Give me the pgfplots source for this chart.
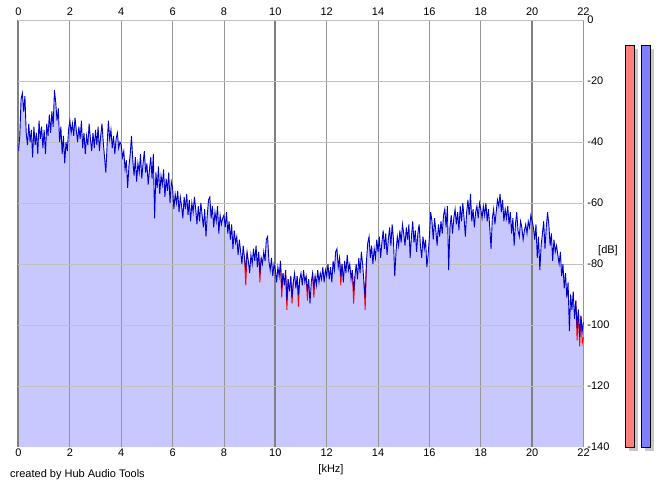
\documentclass[border=0pt]{standalone}
\usepackage{pgfplots}
\pgfplotsset{compat=1.18}
\usepackage{pgfplotstable}
\usepackage{fontspec}
\setmainfont{Liberation Sans}
\definecolor{fillc}{RGB}{200,200,255}
\definecolor{linec}{RGB}{0,0,205}
\definecolor{vgrid}{RGB}{150,150,150}
\definecolor{tgrid}{RGB}{128,128,128}
\definecolor{hgrid}{RGB}{192,192,192}
\pgfplotstableread{
x y
0.00 -43
0.05 -38
0.10 -26
0.15 -24
0.20 -30
0.25 -25
0.30 -37
0.35 -41
0.40 -34
0.45 -40
0.50 -36
0.55 -45
0.60 -35
0.65 -41
0.70 -37
0.75 -44
0.80 -33
0.85 -39
0.90 -35
0.95 -42
1.00 -36
1.05 -44
1.10 -34
1.15 -38
1.20 -31
1.25 -37
1.30 -30
1.35 -35
1.40 -23
1.45 -27
1.50 -33
1.55 -29
1.60 -40
1.65 -35
1.70 -44
1.75 -38
1.80 -47
1.85 -40
1.90 -43
1.95 -36
2.00 -33
2.05 -37
2.10 -34
2.15 -38
2.20 -32
2.25 -36
2.30 -40
2.35 -35
2.40 -39
2.45 -33
2.50 -42
2.55 -37
2.60 -44
2.65 -38
2.70 -41
2.75 -34
2.80 -39
2.85 -43
2.90 -37
2.95 -42
3.00 -36
3.05 -41
3.10 -35
3.15 -43
3.20 -38
3.25 -34
3.30 -40
3.35 -45
3.40 -50
3.45 -41
3.50 -33
3.55 -39
3.60 -36
3.65 -42
3.70 -38
3.75 -44
3.80 -39
3.85 -37
3.90 -42
3.95 -40
4.00 -41
4.05 -45
4.10 -43
4.15 -49
4.20 -46
4.25 -55
4.30 -48
4.35 -44
4.40 -38
4.45 -46
4.50 -51
4.55 -45
4.60 -53
4.65 -47
4.70 -50
4.75 -44
4.80 -52
4.85 -47
4.90 -43
4.95 -50
5.00 -47
5.05 -54
5.10 -49
5.15 -45
5.20 -52
5.25 -44
5.30 -65
5.35 -50
5.40 -55
5.45 -48
5.50 -57
5.55 -51
5.60 -54
5.65 -49
5.70 -58
5.75 -52
5.80 -56
5.85 -50
5.90 -60
5.95 -53
6.00 -55
6.05 -62
6.10 -57
6.15 -60
6.20 -56
6.25 -63
6.30 -58
6.35 -61
6.40 -65
6.45 -58
6.50 -62
6.55 -57
6.60 -64
6.65 -59
6.70 -66
6.75 -60
6.80 -63
6.85 -58
6.90 -62
6.95 -67
7.00 -61
7.05 -66
7.10 -60
7.15 -64
7.20 -68
7.25 -62
7.30 -71
7.35 -64
7.40 -59
7.45 -58
7.50 -65
7.55 -61
7.60 -68
7.65 -63
7.70 -66
7.75 -61
7.80 -70
7.85 -64
7.90 -67
7.95 -65
8.00 -64
8.05 -68
8.10 -63
8.15 -70
8.20 -66
8.25 -72
8.30 -67
8.35 -75
8.40 -69
8.45 -73
8.50 -71
8.55 -77
8.60 -72
8.65 -76
8.70 -80
8.75 -74
8.80 -78
8.85 -82
8.90 -76
8.95 -79
9.00 -83
9.05 -77
9.10 -80
9.15 -75
9.20 -79
9.25 -74
9.30 -81
9.35 -76
9.40 -83
9.45 -78
9.50 -80
9.55 -76
9.60 -79
9.65 -72
9.70 -71
9.75 -79
9.80 -82
9.85 -78
9.90 -84
9.95 -80
10.00 -82
10.05 -86
10.10 -81
10.15 -84
10.20 -79
10.25 -88
10.30 -83
10.35 -87
10.40 -82
10.45 -92
10.50 -85
10.55 -89
10.60 -84
10.65 -91
10.70 -86
10.75 -83
10.80 -88
10.85 -84
10.90 -90
10.95 -85
11.00 -83
11.05 -87
11.10 -82
11.15 -86
11.20 -84
11.25 -89
11.30 -85
11.35 -93
11.40 -86
11.45 -83
11.50 -88
11.55 -84
11.60 -87
11.65 -82
11.70 -86
11.75 -83
11.80 -85
11.85 -81
11.90 -86
11.95 -82
12.00 -84
12.05 -80
12.10 -85
12.15 -81
12.20 -86
12.25 -79
12.30 -82
12.35 -76
12.40 -75
12.45 -81
12.50 -78
12.55 -84
12.60 -80
12.65 -86
12.70 -79
12.75 -83
12.80 -77
12.85 -82
12.90 -80
12.95 -85
13.00 -82
13.05 -89
13.10 -84
13.15 -80
13.20 -85
13.25 -78
13.30 -83
13.35 -76
13.40 -80
13.45 -86
13.50 -91
13.55 -79
13.60 -73
13.65 -71
13.70 -78
13.75 -74
13.80 -80
13.85 -75
13.90 -78
13.95 -72
14.00 -76
14.05 -71
14.10 -78
14.15 -73
14.20 -69
14.25 -75
14.30 -70
14.35 -77
14.40 -72
14.45 -68
14.50 -74
14.55 -67
14.60 -72
14.65 -84
14.70 -76
14.75 -71
14.80 -74
14.85 -69
14.90 -73
14.95 -67
15.00 -70
15.05 -74
15.10 -68
15.15 -72
15.20 -67
15.25 -78
15.30 -71
15.35 -66
15.40 -73
15.45 -69
15.50 -76
15.55 -70
15.60 -67
15.65 -74
15.70 -78
15.75 -71
15.80 -75
15.85 -72
15.90 -81
15.95 -77
16.00 -71
16.05 -63
16.10 -66
16.15 -72
16.20 -65
16.25 -69
16.30 -74
16.35 -67
16.40 -71
16.45 -66
16.50 -70
16.55 -64
16.60 -62
16.65 -68
16.70 -61
16.75 -82
16.80 -68
16.85 -64
16.90 -70
16.95 -65
17.00 -62
17.05 -67
17.10 -63
17.15 -69
17.20 -61
17.25 -66
17.30 -60
17.35 -65
17.40 -71
17.45 -63
17.50 -59
17.55 -64
17.60 -57
17.65 -66
17.70 -62
17.75 -68
17.80 -63
17.85 -61
17.90 -65
17.95 -60
18.00 -62
18.05 -65
18.10 -61
18.15 -64
18.20 -60
18.25 -66
18.30 -62
18.35 -68
18.40 -75
18.45 -65
18.50 -62
18.55 -67
18.60 -63
18.65 -59
18.70 -61
18.75 -57
18.80 -63
18.85 -59
18.90 -66
18.95 -62
19.00 -65
19.05 -61
19.10 -67
19.15 -63
19.20 -70
19.25 -65
19.30 -74
19.35 -67
19.40 -63
19.45 -69
19.50 -71
19.55 -66
19.60 -68
19.65 -72
19.70 -69
19.75 -67
19.80 -70
19.85 -66
19.90 -68
19.95 -64
20.00 -66
20.05 -68
20.10 -72
20.15 -67
20.20 -78
20.25 -71
20.30 -82
20.35 -74
20.40 -70
20.45 -66
20.50 -75
20.55 -68
20.60 -63
20.65 -67
20.70 -74
20.75 -70
20.80 -79
20.85 -72
20.90 -76
20.95 -74
21.00 -77
21.05 -80
21.10 -76
21.15 -84
21.20 -80
21.25 -88
21.30 -83
21.35 -91
21.40 -86
21.45 -102
21.50 -90
21.55 -95
21.60 -89
21.65 -98
21.70 -92
21.75 -101
21.80 -95
21.85 -104
21.90 -97
21.95 -102
22.00 -99
}\specblue
\pgfplotstableread{
x y
0.00 -140
}\fillarea
\pgfplotstableread{
x y
22.00 -140
}\fillend
\pgfplotstablevertcat{\fillarea}{\specblue}
\pgfplotstablevertcat{\fillarea}{\fillend}
\begin{document}
\begin{tikzpicture}
\path[use as bounding box] (-18.5pt,-40pt) rectangle (646.5pt,447pt);
\begin{axis}[
  at={(0pt,0pt)}, anchor=south west,
  scale only axis, width=565pt, height=427pt,
  xmin=0, xmax=22, ymin=-140, ymax=0,
  axis on top,
  axis line style={draw=none},
  major tick length=0pt,
  xtick={0,2,...,22},
  xticklabels={0,2,4,6,8,10,12,14,16,18,20,22},
  xticklabel pos=lower,
  xmajorgrids,
  major grid style={color=vgrid, line width=0.8pt},
  extra x ticks={0,10,20},
  extra x tick labels={},
  extra x tick style={grid=major, major grid style={color=tgrid, line width=2pt}},
  ytick={-140,-120,...,0},
  yticklabels={-140,-120,-100,-80,-60,-40,-20,0},
  yticklabel pos=right,
  extra y ticks={-120,-100,-80,-60,-40,-20,0},
  extra y tick labels={},
  extra y tick style={grid=major, major grid style={color=hgrid, line width=0.8pt}},
  tick label style={font=\fontsize{11}{13}\selectfont},
  xticklabel style={inner sep=2pt},
  yticklabel style={inner sep=3.7pt},
]
\addplot[fill=fillc, draw=none] table[x=x,y=y] {\fillarea};
\end{axis}
\begin{axis}[
  at={(0pt,0pt)}, anchor=south west,
  scale only axis, width=565pt, height=427pt,
  xmin=0, xmax=22, ymin=-140, ymax=0,
  axis lines=none,
]
% red channel dips
\addplot[red, line width=0.9pt] coordinates {(8.80,-78) (8.85,-87) (8.90,-76)};
\addplot[red, line width=0.9pt] coordinates {(9.35,-76) (9.40,-86) (9.45,-78)};
\addplot[red, line width=0.9pt] coordinates {(10.20,-79) (10.25,-91) (10.30,-83)};
\addplot[red, line width=0.9pt] coordinates {(10.40,-82) (10.45,-95) (10.50,-85)};
\addplot[red, line width=0.9pt] coordinates {(10.60,-84) (10.65,-93) (10.70,-86)};
\addplot[red, line width=0.9pt] coordinates {(10.85,-84) (10.90,-94) (10.95,-85)};
\addplot[red, line width=0.9pt] coordinates {(11.20,-84) (11.25,-92) (11.30,-85)};
\addplot[red, line width=0.9pt] coordinates {(11.45,-83) (11.50,-91) (11.55,-84)};
\addplot[red, line width=0.9pt] coordinates {(12.50,-78) (12.55,-87) (12.60,-80)};
\addplot[red, line width=0.9pt] coordinates {(13.00,-82) (13.05,-93) (13.10,-84)};
\addplot[red, line width=0.9pt] coordinates {(13.45,-86) (13.50,-95) (13.55,-79)};
\addplot[red, line width=0.9pt] coordinates {(21.70,-92) (21.75,-105) (21.80,-95) (21.85,-107) (21.90,-97) (21.95,-106) (22.00,-104)};
\addplot[linec, line width=0.9pt] table[x=x,y=y] {\specblue};
\end{axis}
\begin{axis}[
  at={(0pt,0pt)}, anchor=south west,
  scale only axis, width=565pt, height=427pt,
  xmin=0, xmax=22, ymin=-140, ymax=0,
  axis line style={draw=none},
  major tick length=0pt,
  xtick={0,2,...,22},
  xticklabels={0,2,4,6,8,10,12,14,16,18,20,22},
  xticklabel pos=upper,
  ytick=\empty,
  tick label style={font=\fontsize{11}{13}\selectfont},
  xticklabel style={inner sep=4pt},
]
\addplot[draw=none] coordinates {(0,-140) (22,0)};
\end{axis}
\node[font=\fontsize{11}{13}\selectfont] at (589.5pt,196pt) {[dB]};
\node[font=\fontsize{11}{13}\selectfont] at (312.5pt,-23pt) {[kHz]};
\node[font=\fontsize{11}{13}\selectfont, anchor=west, inner sep=0pt] at (-8.5pt,-28pt) {created by Hub Audio Tools};
% level meters
\fill[black!22] (610.5pt,-4pt) rectangle (619.5pt,398pt);
\fill[black!22] (626.5pt,-4pt) rectangle (635.5pt,398pt);
\filldraw[fill={rgb,255:red,255;green,128;blue,128}, draw=black, line width=0.8pt] (606.5pt,0pt) rectangle (615.5pt,402pt);
\filldraw[fill={rgb,255:red,128;green,128;blue,255}, draw=black, line width=0.8pt] (622.5pt,0pt) rectangle (631.5pt,402pt);
\end{tikzpicture}
\end{document}
